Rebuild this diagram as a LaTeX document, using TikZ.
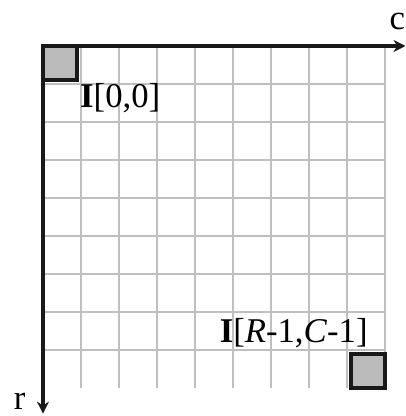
\documentclass[tikz,border=0pt]{standalone}
\usepackage{fontspec}
\setmainfont{Liberation Serif}
\usepackage{tikz}
\usetikzlibrary{shapes,arrows,arrows.meta,positioning,fit,backgrounds}

\begin{document}
\begin{tikzpicture}[
    x=0.9cm, y=0.9cm,
    gridline/.style={draw=black!25, line width=1.3pt},
    pixel/.style={rectangle, draw=black!90, fill=black!27, line width=2.6pt, minimum size=0.9cm, inner sep=0pt},
    axis/.style={-{Stealth[length=9pt, width=9pt]}, line width=2.4pt, draw=black!90},
    label/.style={font=\fontsize{26}{30}\selectfont, inner sep=0pt}
]
    \useasboundingbox (-1.257,1.345) rectangle (10.614,-10.819);
    % image grid
    \draw[gridline] (0,0) grid (10,-10);
    % first and last pixel
    \node[pixel] (first) at (0.5,-0.5) {};
    \node[pixel] (last) at (9.5,-9.5) {};
    \node[label, anchor=west] (firstlbl) at (1.08,-1.52) {\textbf{I}[0,0]};
    \node[label, anchor=east] (lastlbl) at (9.5,-8.4) {\textbf{I}[\textit{R}-1,\textit{C}-1]};
    % axes
    \coordinate (origin) at (0,0);
    \coordinate (cend) at (10.6,0);
    \coordinate (rend) at (0,-10.75);
    \draw[axis] (origin) -- (cend);
    \draw[axis] (origin) -- (rend);
    \node[label] (clbl) at (10.36,0.72) {c};
    \node[label] (rlbl) at (-0.68,-10.38) {r};
\end{tikzpicture}
\end{document}
